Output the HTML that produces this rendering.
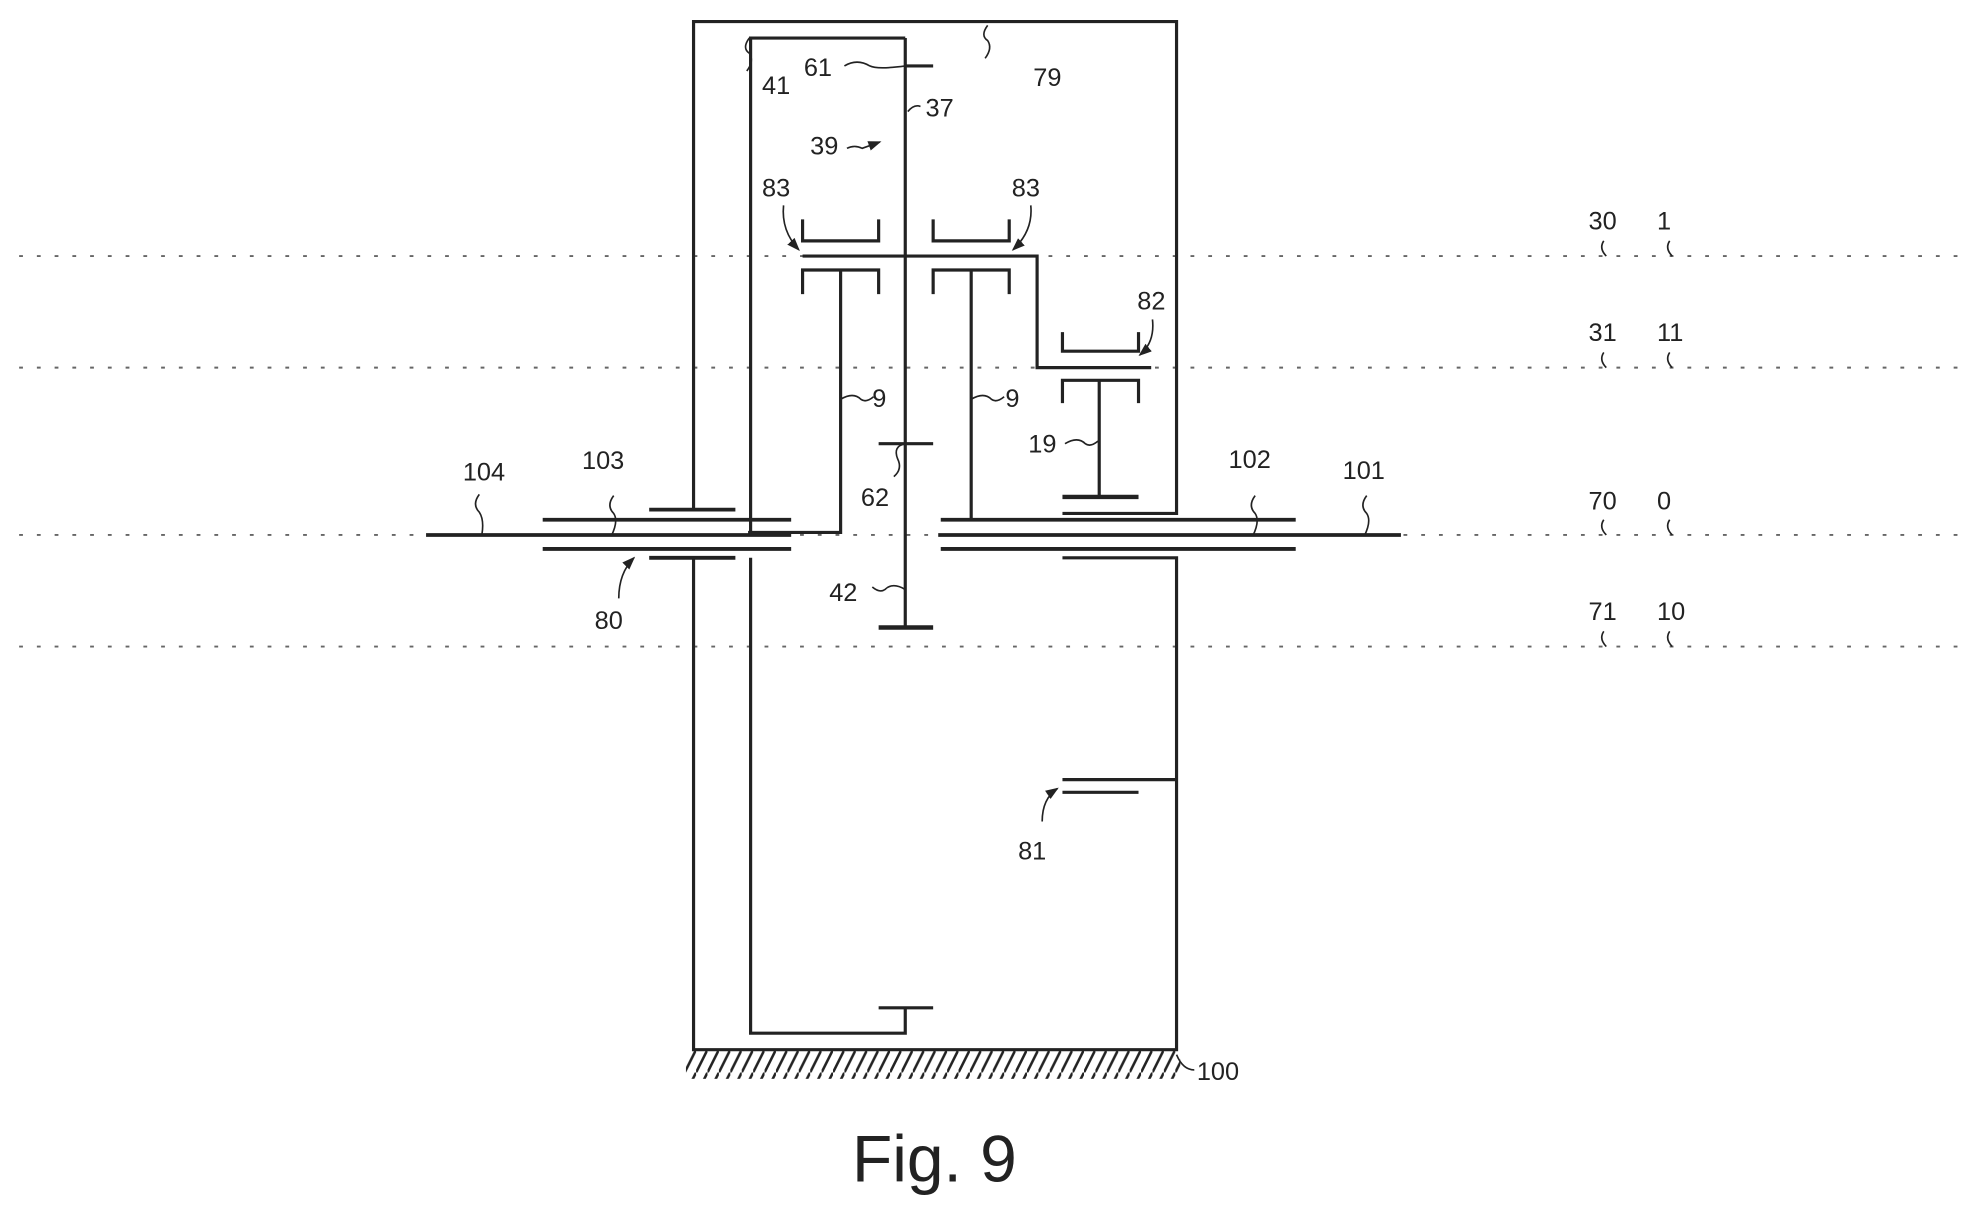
<!DOCTYPE html><html><head><style>body{margin:0;background:#fff}svg{display:block}text{font-family:"Liberation Sans",sans-serif;fill:#222}</style></head><body>
<svg width="1988" height="1217" viewBox="0 0 1568 960" xmlns="http://www.w3.org/2000/svg">
<defs><pattern id="h" width="9" height="18" patternUnits="userSpaceOnUse"><line x1="9" y1="0" x2="0" y2="18" stroke="#222" stroke-width="2"/></pattern>
<marker id="a" markerWidth="8" markerHeight="8" refX="7" refY="4" orient="auto"><path d="M0,1 L8,4 L0,7 z" fill="#222"/></marker></defs>
<g stroke="#666" stroke-width="1.5" stroke-dasharray="3,11">
<line x1="15" y1="202" x2="1552" y2="202"/><line x1="15" y1="290" x2="1552" y2="290"/><line x1="15" y1="422" x2="1552" y2="422"/><line x1="15" y1="510" x2="1552" y2="510"/></g>
<g stroke="#222" stroke-width="2.5" fill="none">
<polyline points="547,403 547,17 928,17 928,405 838,405"/>
<polyline points="547,440 547,828 928,828 928,440 838,440"/>
<rect x="541" y="829" width="390" height="22" fill="url(#h)" stroke="none"/>
<polyline points="592,420 592,30 714,30"/>
<polyline points="592,440 592,815 714,815 714,795"/>
<line x1="693" y1="795" x2="736" y2="795"/>
<line x1="714" y1="30" x2="714" y2="495"/>
<line x1="714" y1="52" x2="736" y2="52"/>
<line x1="693" y1="350" x2="736" y2="350"/>
<line x1="693" y1="495" x2="736" y2="495" stroke-width="3.5"/>
<polyline points="633,202 818,202 818,290 908,290"/>
<polyline points="633,173 633,190 693,190 693,173"/>
<polyline points="736,173 736,190 796,190 796,173"/>
<polyline points="838,262 838,277 898,277 898,262"/>
<polyline points="633,232 633,213 693,213 693,232"/><polyline points="663,213 663,420 590,420"/>
<polyline points="736,232 736,213 796,213 796,232"/><line x1="766" y1="213" x2="766" y2="410"/>
<polyline points="838,318 838,300 898,300 898,318"/><line x1="867" y1="300" x2="867" y2="392"/>
<line x1="838" y1="392" x2="898" y2="392" stroke-width="3.5"/>
<line x1="336" y1="422" x2="624" y2="422" stroke-width="3"/>
<line x1="428" y1="410" x2="624" y2="410" stroke-width="3"/><line x1="428" y1="433" x2="624" y2="433" stroke-width="3"/>
<line x1="512" y1="402" x2="580" y2="402" stroke-width="3"/><line x1="512" y1="440" x2="580" y2="440" stroke-width="3"/>
<line x1="740" y1="422" x2="1105" y2="422" stroke-width="3"/>
<line x1="742" y1="410" x2="1022" y2="410" stroke-width="3"/><line x1="742" y1="433" x2="1022" y2="433" stroke-width="3"/>
<line x1="838" y1="615" x2="928" y2="615"/><line x1="838" y1="625" x2="898" y2="625"/>
<g stroke-width="1.3">
<path d="M591,30 q-6,8 0,12 q4,6 -2,14"/><path d="M666,52 q10,-6 20,0 q6,3 28,0"/><path d="M716,88 q5,-6 10,-4"/>
<path d="M668,117 q6,-3 12,0 l14,-5" marker-end="url(#a)"/><path d="M779,20 q-6,8 0,12 q4,6 -2,14"/>
<path d="M618,162 q-2,20 12,35" marker-end="url(#a)"/><path d="M813,162 q2,20 -14,35" marker-end="url(#a)"/><path d="M909,252 q2,18 -10,28" marker-end="url(#a)"/>
<path d="M663,315 q10,-6 16,0 q4,3 10,-2"/><path d="M766,315 q10,-6 16,0 q4,3 10,-2"/><path d="M840,350 q10,-6 16,0 q4,3 10,-2"/>
<path d="M714,350 q-10,2 -6,12 q4,8 -3,14"/><path d="M714,465 q-10,-6 -16,0 q-4,3 -10,-2"/>
<path d="M378,390 q-6,8 0,14 q4,6 2,18"/><path d="M484,391 q-6,8 0,14 q4,6 -2,18"/>
<path d="M488,472 q0,-20 12,-32" marker-end="url(#a)"/><path d="M822,648 q0,-18 12,-26" marker-end="url(#a)"/>
<path d="M990,391 q-6,8 0,14 q4,6 -2,18"/><path d="M1078,391 q-6,8 0,14 q4,6 -2,18"/>
<path d="M928,832 q5,12 14,12"/>
<path d="M1265,190 q-4,6 2,12"/><path d="M1317,190 q-4,6 2,12"/><path d="M1265,278 q-4,6 2,12"/><path d="M1317,278 q-4,6 2,12"/>
<path d="M1265,498 q-4,6 2,12"/><path d="M1317,498 q-4,6 2,12"/><path d="M1265,410 q-4,6 2,12"/><path d="M1317,410 q-4,6 2,12"/>
</g></g>
<g font-size="20">
<text x="601" y="74">41</text><text x="634" y="60">61</text><text x="730" y="92">37</text><text x="639" y="122">39</text><text x="815" y="68">79</text>
<text x="601" y="155">83</text><text x="798" y="155">83</text><text x="897" y="244">82</text>
<text x="688" y="321">9</text><text x="793" y="321">9</text><text x="811" y="357">19</text>
<text x="679" y="399">62</text><text x="654" y="474">42</text>
<text x="365" y="379">104</text><text x="459" y="370">103</text><text x="469" y="496">80</text><text x="969" y="369">102</text><text x="1059" y="378">101</text>
<text x="803" y="678">81</text><text x="944" y="852">100</text>
<text x="1253" y="181">30</text><text x="1307" y="181">1</text><text x="1253" y="269">31</text><text x="1307" y="269">11</text>
<text x="1253" y="402">70</text><text x="1307" y="402">0</text><text x="1253" y="489">71</text><text x="1307" y="489">10</text>
</g>
<text x="672" y="932" font-size="52">Fig. 9</text>
</svg></body></html>
